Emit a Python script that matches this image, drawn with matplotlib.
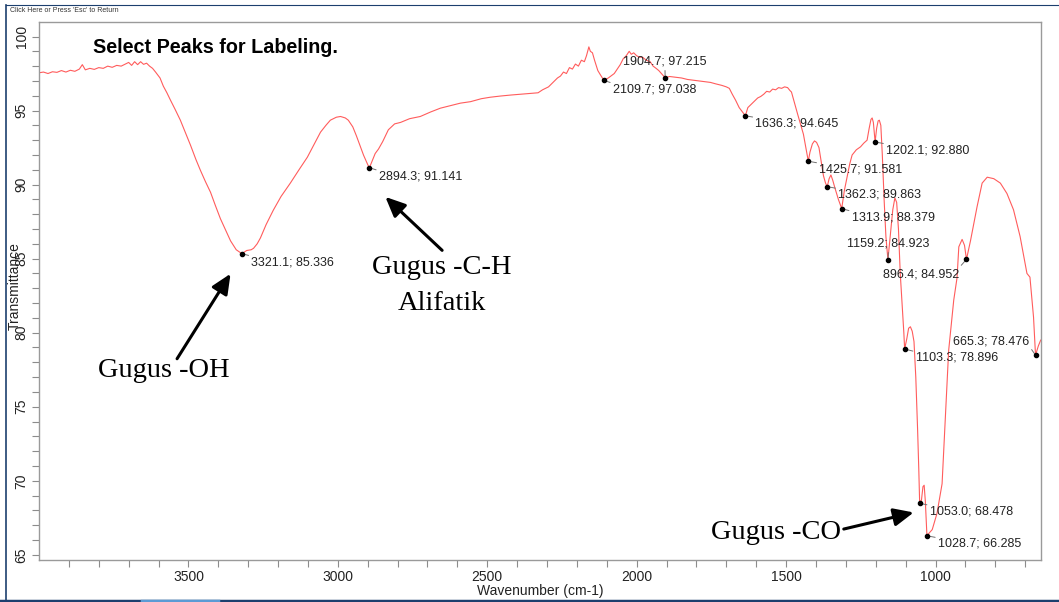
import matplotlib.pyplot as plt
from matplotlib.ticker import FixedLocator
from matplotlib.lines import Line2D

# spectrum (wavenumber cm-1, % transmittance)
wavenumber = [
    4000, 3985, 3970, 3955, 3940, 3925, 3910, 3895, 3880, 3865, 3855, 3845,
    3830, 3815, 3800, 3785, 3770, 3755, 3740, 3725, 3710, 3700, 3690, 3680,
    3670, 3660, 3650, 3640, 3630, 3620, 3610, 3595, 3584, 3572, 3560, 3545,
    3527, 3510, 3493, 3475, 3460, 3443, 3426, 3410, 3393, 3375, 3359, 3340,
    3321.1, 3305, 3290, 3282, 3270, 3259, 3240, 3216, 3190, 3159, 3130, 3102,
    3080, 3058, 3040, 3025, 3005, 2991, 2975, 2965, 2950, 2938, 2925, 2914,
    2900, 2894.3, 2885, 2875, 2864, 2850, 2831, 2810, 2790, 2760, 2724, 2690,
    2657, 2620, 2590, 2556, 2520, 2490, 2456, 2420, 2389, 2355, 2330, 2315,
    2295, 2280, 2265, 2255, 2245, 2235, 2225, 2215, 2205, 2195, 2185, 2175,
    2168, 2160, 2155, 2148, 2141, 2130, 2121, 2109.7, 2095, 2085, 2075, 2065,
    2055, 2045, 2035, 2025, 2018, 2010, 2000, 1990, 1980, 1968, 1955, 1945,
    1935, 1926, 1915, 1904.7, 1890, 1870, 1850, 1830, 1810, 1790, 1770, 1753,
    1735, 1715, 1700, 1690, 1680, 1669, 1657, 1646, 1636.3, 1628, 1618, 1606,
    1595, 1585, 1575, 1565, 1555, 1545, 1535, 1525, 1515, 1505, 1495, 1487,
    1482, 1462, 1442, 1425.7, 1420, 1412, 1405, 1398, 1390, 1383, 1375, 1368,
    1362.3, 1356, 1350, 1344, 1337, 1325, 1313.9, 1305, 1296, 1287, 1279, 1265,
    1251, 1240, 1229, 1222, 1216, 1212, 1208, 1202.1, 1197, 1192, 1188, 1183,
    1178, 1172, 1166, 1159.2, 1150, 1143, 1136, 1130, 1124, 1118, 1112, 1106,
    1103.3, 1096, 1090, 1084, 1078, 1072, 1066, 1060, 1056, 1053.0, 1047, 1042,
    1038, 1034, 1028.7, 1020, 1011, 995, 978, 967, 956, 939, 928, 922,
    911, 903, 896.4, 883, 861, 844, 827, 805, 783, 761, 739, 717,
    694, 684, 672, 665.3, 656, 648,
]
transmittance = [
    97.55, 97.6, 97.5, 97.62, 97.58, 97.7, 97.6, 97.72, 97.65, 97.8, 98.1, 97.75,
    97.85, 97.78, 97.9, 97.85, 98.0, 97.92, 98.05, 98.0, 98.15, 98.25, 98.05, 98.3,
    98.1, 98.3, 98.12, 98.2, 98.0, 97.85, 97.6, 97.2, 96.65, 96.2, 95.7, 95.1,
    94.35, 93.5, 92.66, 91.7, 90.97, 90.2, 89.48, 88.6, 87.7, 86.9, 86.2, 85.6,
    85.336, 85.55, 85.6, 85.7, 86.0, 86.4, 87.3, 88.27, 89.2, 90.1, 91.0, 91.85,
    92.7, 93.54, 94.0, 94.35, 94.55, 94.6, 94.5, 94.35, 93.9, 93.3, 92.6, 91.99,
    91.35, 91.141, 91.6, 92.1, 92.4, 92.9, 93.7, 94.1, 94.2, 94.45, 94.6, 94.9,
    95.16, 95.35, 95.5, 95.6, 95.8, 95.9, 95.98, 96.05, 96.1, 96.15, 96.2, 96.4,
    96.6, 96.9, 97.2, 97.33, 97.6, 97.5, 97.9, 97.8, 98.14, 98.0, 98.4, 98.3,
    98.7, 99.3, 99.0, 98.9, 98.4, 97.7, 97.4, 97.038, 97.2, 97.35, 97.5, 97.8,
    98.1, 98.5, 98.7, 99.0, 98.8, 98.9, 98.7, 98.6, 98.6, 98.4, 98.3, 98.0,
    97.85, 97.7, 97.45, 97.215, 97.3, 97.25, 97.2, 97.1, 97.05, 97.0, 96.95, 96.9,
    96.8, 96.7, 96.6, 96.5, 96.1, 95.7, 95.2, 94.9, 94.645, 95.2, 95.4, 95.65,
    95.85, 95.95, 96.1, 96.3, 96.25, 96.45, 96.4, 96.55, 96.5, 96.6, 96.55, 96.35,
    96.25, 94.8, 93.4, 91.581, 92.2, 92.75, 92.95, 92.85, 92.5, 91.6, 90.6, 90.1,
    89.863, 90.4, 90.65, 90.3, 89.8, 89.0, 88.379, 89.6, 90.5, 91.4, 92.0, 92.35,
    92.55, 92.8, 93.0, 93.8, 94.4, 94.5, 94.2, 92.880, 93.8, 94.3, 94.35, 94.0,
    92.0, 89.0, 86.5, 84.923, 86.8, 88.3, 89.1, 88.8, 87.0, 84.0, 82.0, 80.0,
    78.896, 79.6, 80.3, 80.4, 80.1, 79.4, 77.0, 73.5, 70.8, 68.478, 68.7, 69.6,
    69.7, 68.6, 66.285, 66.5, 66.7, 67.8, 69.8, 74.3, 78.8, 82.2, 83.7, 85.8,
    86.3, 85.9, 84.952, 86.2, 88.5, 90.1, 90.5, 90.4, 90.1, 89.4, 88.3, 86.5,
    84.0, 83.75, 81.05, 78.476, 79.1, 79.5,
]

# picked peaks
peak_wn = [3321.1, 2894.3, 2109.7, 1904.7, 1636.3, 1425.7, 1362.3, 1313.9,
           1202.1, 1159.2, 1103.3, 1053.0, 1028.7, 896.4, 665.3]
peak_tr = [85.336, 91.141, 97.038, 97.215, 94.645, 91.581, 89.863, 88.379,
           92.880, 84.923, 78.896, 68.478, 66.285, 84.952, 78.476]

# axis ticks
x_major = [3500, 3000, 2500, 2000, 1500, 1000]
x_minor = list(range(700, 4000, 100))
y_major = [65, 70, 75, 80, 85, 90, 95, 100]
y_minor = list(range(65, 101))

# functional group notes (one entry per line of text)
group_lines = ["Gugus -OH", "Gugus -C-H", "Alifatik", "Gugus -CO"]

# label placement: offset in points, text alignment, where the leader meets the text
label_style = {
    3321.1: ((6.8, -6.1), 'left', (0, 1)),
    2894.3: ((6.8, -6.5), 'left', (0, 1)),
    2109.7: ((6.5, -6.5), 'left', (0, 1)),
    1904.7: ((-30.2, 11.5), 'left', (0.5, 0)),
    1636.3: ((7.2, -5.5), 'left', (0, 1)),
    1425.7: ((7.9, -5.8), 'left', (0, 1)),
    1362.3: ((7.9, -5.8), 'left', (0, 1)),
    1313.9: ((7.2, -6.3), 'left', (0, 1)),
    1202.1: ((7.9, -5.8), 'left', (0, 1)),
    1159.2: ((-29.3, 11.5), 'left', (0.5, 0)),
    1103.3: ((7.9, -6.3), 'left', (0, 1)),
    1053.0: ((7.2, -5.8), 'left', (0, 1)),
    1028.7: ((7.9, -5.8), 'left', (0, 1)),
    896.4: ((-5.5, -10.6), 'right', (1, 1)),
    665.3: ((-4.8, 9.6), 'right', (1, 0.2)),
}

fig = plt.figure(figsize=(10.59, 6.02), dpi=100)
plt.rcParams['font.family'] = ['Liberation Sans', 'DejaVu Sans']
ax = fig.add_axes([39 / 1059, 42 / 602, 1002 / 1059, 538 / 602])

ax.plot(wavenumber, transmittance, color='#ff5c5c', lw=0.8)
ax.plot(peak_wn, peak_tr, 'o', color='black', ms=3, zorder=4)

for wn, tr in zip(peak_wn, peak_tr):
    offset, ha, rel = label_style[wn]
    ax.annotate(f"{wn:.1f}; {tr:.3f}", xy=(wn, tr), xytext=offset,
                textcoords='offset points', ha=ha, va='center', fontsize=9,
                color='#222222',
                arrowprops=dict(arrowstyle='-', color='#707070', lw=0.7,
                                shrinkA=0, shrinkB=0, relpos=rel))

ax.set_xlim(4000, 647)
ax.set_ylim(64.65, 100.98)
ax.xaxis.set_major_locator(FixedLocator(x_major))
ax.xaxis.set_minor_locator(FixedLocator(x_minor))
ax.yaxis.set_major_locator(FixedLocator(y_major))
ax.yaxis.set_minor_locator(FixedLocator(y_minor))
ax.tick_params(which='both', length=5, width=0.8, color='#8c8c8c',
               labelsize=10, labelcolor='#222222', pad=2.5)
plt.setp(ax.get_yticklabels(), rotation=90, va='center')
for sp in ax.spines.values():
    sp.set_color('#9a9a9a')
    sp.set_linewidth(1.0)

ax.set_xlabel('Wavenumber (cm-1)', fontsize=10, labelpad=0, color='#222222')
# the instrument software draws this label over the 80/85 tick labels
ax.set_ylabel('Transmittance', fontsize=10, color='#222222')
ax.yaxis.set_label_coords(-0.017, 0.51)

ax.text(0.054, 0.952, 'Select Peaks for Labeling.', transform=ax.transAxes,
        fontsize=14.2, fontweight='bold', va='center', ha='left')

# group notes with arrows (Times-like serif)
serif = ['Liberation Serif', 'DejaVu Serif']
note = dict(family=serif, fontsize=20.5, ha='center', va='center')
ax.text(3584, 77.45, group_lines[0], **note)
ax.text(2652, 84.43, group_lines[1], **note)
ax.text(2652, 81.96, group_lines[2], **note)
ax.text(1534, 66.5, group_lines[3], **note)

arrow = dict(arrowstyle='-|>,head_length=0.6,head_width=0.27', color='black',
             lw=2.2, mutation_scale=20, shrinkA=0, shrinkB=0)
ax.annotate('', xy=(3359, 83.98), xytext=(3538, 78.24), arrowprops=arrow)
ax.annotate('', xy=(2841, 89.17), xytext=(2651, 85.56), arrowprops=arrow)
ax.annotate('', xy=(1073, 67.86), xytext=(1307, 66.74), arrowprops=arrow)

# window frame around the screenshot
fig.text(10 / 1059, 1 - 11 / 602, "Click Here or Press 'Esc' to Return",
         fontsize=5, va='center', color='#333333')
frame = '#1c3f6e'
fig.add_artist(Line2D([6 / 1059, 6 / 1059], [0, 1 - 5 / 602], color=frame,
                      lw=1.2, transform=fig.transFigure))
fig.add_artist(Line2D([6 / 1059, 1], [1 - 5 / 602, 1 - 5 / 602], color=frame,
                      lw=0.8, transform=fig.transFigure))
fig.add_artist(Line2D([0, 1], [1.5 / 602, 1.5 / 602], color=frame,
                      lw=2.5, transform=fig.transFigure))
fig.add_artist(Line2D([142 / 1059, 218 / 1059], [1.5 / 602, 1.5 / 602],
                      color='#5b9bd5', lw=2.5, transform=fig.transFigure))

fig.savefig('out.png', dpi=100)
